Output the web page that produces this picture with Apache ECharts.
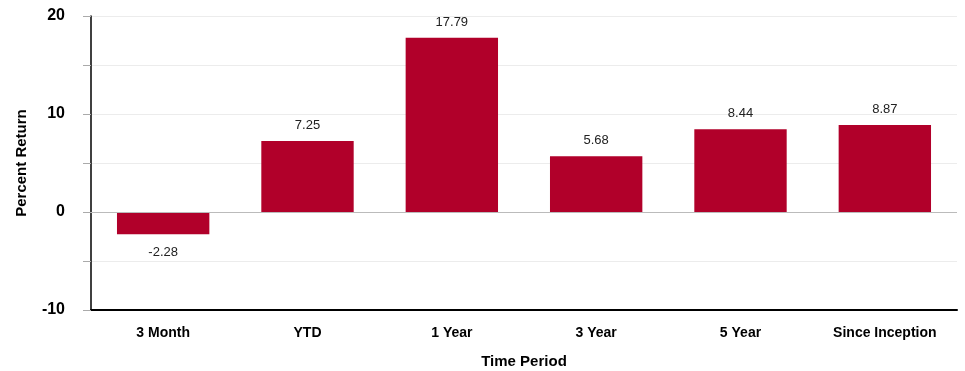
<!DOCTYPE html>
<html>
<head>
<meta charset="utf-8">
<script src="https://cdn.jsdelivr.net/npm/echarts@6/dist/echarts.min.js"></script>
<style>
  html, body { margin: 0; padding: 0; background: #fff; }
  #chart { width: 965px; height: 371px; }
</style>
</head>
<body>
<div id="chart"></div>
<script>
const categories = [ '3 Month', 'YTD', '1 Year', '3 Year', '5 Year', 'Since Inception' ]
const returns = [ -2.28, 7.25, 17.79, 5.68, 8.44, 8.87 ]
const yTicks = [ -10, 0, 10, 20 ]

const font = '"Liberation Sans", Arial, sans-serif'
const barColor = '#b1002a'

const chart = echarts.init( document.getElementById( 'chart' ) )

chart.setOption( {
  animation : false,
  grid : {
    top : 16,
    left : 91,
    right : 8,
    bottom : 61,
    outerBoundsMode : 'none'
  },
  xAxis : {
    type : 'category',
    data : categories,
    name : 'Time Period',
    nameLocation : 'middle',
    nameGap : 44,
    nameTextStyle : { fontFamily : font, fontWeight : 'bold', fontSize : 15, color : '#000' },
    axisLine : { onZero : false, lineStyle : { color : '#000', width : 2 }},
    axisTick : { show : false },
    axisLabel : { fontFamily : font, fontWeight : 'bold', fontSize : 14, color : '#000', margin : 16 }
  },
  yAxis : {
    type : 'value',
    min : yTicks[ 0 ],
    max : yTicks[ yTicks.length - 1 ],
    interval : 5,
    name : 'Percent Return',
    nameLocation : 'middle',
    nameGap : 62,
    nameTextStyle : { fontFamily : font, fontWeight : 'bold', fontSize : 15, color : '#000' },
    axisLine : { show : true, lineStyle : { color : '#000', width : 1.5 }},
    axisTick : { show : true, length : 8, lineStyle : { color : '#aaa' }},
    axisLabel : {
      fontFamily : font,
      fontWeight : 'bold',
      fontSize : 16,
      color : '#000',
      margin : 26,
      formatter : v => yTicks.includes( v ) ? String( v ) : ''
    },
    splitLine : { show : true, lineStyle : { color : '#ececec', width : 1 }}
  },
  series : [
    {
      type : 'bar',
      barWidth : '64%',
      itemStyle : { color : barColor },
      data : returns.map( v => ( {
        value : v,
        label : { position : v < 0 ? 'bottom' : 'top', distance : v < 0 ? 12 : 9 }
      } ) ),
      label : {
        show : true,
        fontFamily : font,
        fontSize : 13,
        color : '#222',
        formatter : p => p.value.toFixed( 2 )
      },
      markLine : {
        silent : true,
        symbol : 'none',
        label : { show : false },
        lineStyle : { color : '#bbb', width : 1, type : 'solid' },
        data : [ { yAxis : 0 } ]
      }
    }
  ]
} )
</script>
</body>
</html>
